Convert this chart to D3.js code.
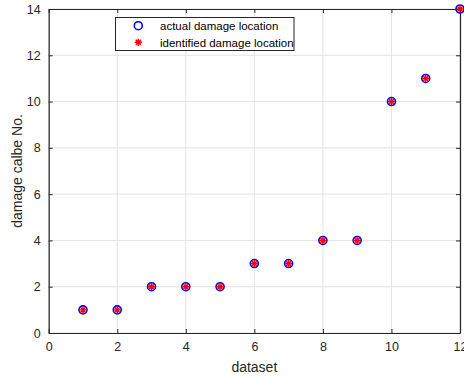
<!DOCTYPE html>
<html>
<head>
<meta charset="utf-8">
<script src="https://cdn.jsdelivr.net/npm/d3@7"></script>
<style>
  html, body { margin: 0; padding: 0; background: #fff; }
  svg { display: block; font-family: "Liberation Sans", Arial, sans-serif; }
</style>
</head>
<body>
<svg id="chart" width="464" height="379"></svg>
<script>
// Dataset index and the damaged cable number found for each
const datasets = [1, 2, 3, 4, 5, 6, 7, 8, 9, 10, 11, 12];
const actualLocation = [1, 1, 2, 2, 2, 3, 3, 4, 4, 10, 11, 14];
const identifiedLocation = [1, 1, 2, 2, 2, 3, 3, 4, 4, 10, 11, 14];
const xTicks = [0, 2, 4, 6, 8, 10, 12];
const yTicks = [0, 2, 4, 6, 8, 10, 12, 14];
const legendLabels = ["actual damage location", "identified damage location"];

const svg = d3.select("#chart");
const margin = { left: 48.7, right: 4, top: 9, bottom: 46 };
const W = 464, H = 379;
const x = d3.scaleLinear().domain([0, 12]).range([margin.left, W - margin.right]);
const y = d3.scaleLinear().domain([0, 14]).range([H - margin.bottom, margin.top]);
const axisColor = "#262626";

// grid
const g = svg.append("g");
g.selectAll(".gx").data(xTicks).join("line")
  .attr("x1", d => x(d)).attr("x2", d => x(d))
  .attr("y1", y(0)).attr("y2", y(14))
  .attr("stroke", "#e3e3e3").attr("stroke-width", 1);
g.selectAll(".gy").data(yTicks).join("line")
  .attr("x1", x(0)).attr("x2", x(12))
  .attr("y1", d => y(d)).attr("y2", d => y(d))
  .attr("stroke", "#e3e3e3").attr("stroke-width", 1);

// axes with inward ticks
const xAxis = d3.axisBottom(x).tickValues(xTicks).tickSizeInner(-4).tickSizeOuter(0).tickPadding(9);
const yAxis = d3.axisLeft(y).tickValues(yTicks).tickSizeInner(-4).tickSizeOuter(0).tickPadding(8);
const xa = svg.append("g").attr("transform", `translate(0,${y(0)})`).call(xAxis);
const ya = svg.append("g").attr("transform", `translate(${x(0)},0)`).call(yAxis);
const xTop = svg.append("g").attr("transform", `translate(0,${y(14)})`)
  .call(d3.axisTop(x).tickValues(xTicks).tickSizeInner(-4).tickSizeOuter(0).tickFormat(""));
const yRight = svg.append("g").attr("transform", `translate(${x(12)},0)`)
  .call(d3.axisRight(y).tickValues(yTicks).tickSizeInner(-4).tickSizeOuter(0).tickFormat(""));
[xa, ya, xTop, yRight].forEach(a => {
  a.select(".domain").attr("stroke", axisColor).attr("stroke-width", 1.2);
  a.selectAll(".tick line").attr("stroke", axisColor);
  a.selectAll(".tick text").attr("fill", axisColor).attr("font-size", 12.5)
    .attr("font-family", "Liberation Sans, Arial, sans-serif");
});

// axis labels
svg.append("text").attr("x", (x(0) + x(12)) / 2).attr("y", 372)
  .attr("text-anchor", "middle").attr("font-size", 14).attr("fill", axisColor).text("dataset");
svg.append("text").attr("transform", `translate(22,${(y(0) + y(14)) / 2}) rotate(-90)`)
  .attr("text-anchor", "middle").attr("font-size", 14).attr("fill", axisColor).text("damage calbe No.");

// asterisk marker path
function star(r) {
  let p = "";
  for (let i = 0; i < 4; i++) {
    const a = i * Math.PI / 4;
    const dx = r * Math.cos(a), dy = r * Math.sin(a);
    p += `M${-dx},${-dy}L${dx},${dy}`;
  }
  return p;
}

const pts = svg.append("g");
pts.selectAll("circle").data(datasets).join("circle")
  .attr("cx", d => x(d)).attr("cy", (d, i) => y(actualLocation[i]))
  .attr("r", 4).attr("fill", "none").attr("stroke", "#0000ff").attr("stroke-width", 1.6);
pts.selectAll("path").data(datasets).join("path")
  .attr("transform", (d, i) => `translate(${x(d)},${y(identifiedLocation[i])})`)
  .attr("d", star(3.6)).attr("stroke", "#ff0000").attr("stroke-width", 1.4).attr("fill", "none");

// legend
const lg = svg.append("g");
lg.append("rect").attr("x", 115.5).attr("y", 17.5).attr("width", 178.5).attr("height", 33)
  .attr("fill", "#fff").attr("stroke", axisColor).attr("stroke-width", 1);
lg.append("circle").attr("cx", 138.3).attr("cy", 25.7).attr("r", 4)
  .attr("fill", "none").attr("stroke", "#0000ff").attr("stroke-width", 1.6);
lg.append("path").attr("transform", "translate(138.3,42.3)").attr("d", star(3.6))
  .attr("stroke", "#ff0000").attr("stroke-width", 1.4);
lg.selectAll("text").data(legendLabels).join("text")
  .attr("x", 160).attr("y", (d, i) => 30 + i * 16.6)
  .attr("font-size", 11.5).attr("fill", "#000").text(d => d);
</script>
</body>
</html>
